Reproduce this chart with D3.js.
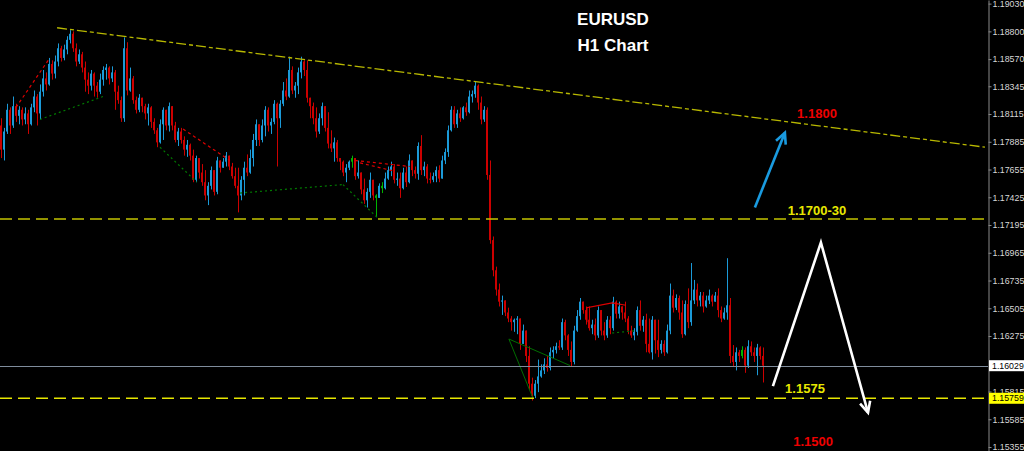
<!DOCTYPE html>
<html>
<head>
<meta charset="utf-8">
<script src="https://cdn.jsdelivr.net/npm/d3@7"></script>
<style>
  html, body { margin: 0; padding: 0; background: #000; }
  svg { display: block; }
</style>
</head>
<body>
<div id="chart"></div>
<script>
// EURUSD H1 bars, open of each bar = close of the bar before
const firstOpen = 1.1802;
const closes = [
  1.1782, 1.1797, 1.1815, 1.1802, 1.1818, 1.1810, 1.1815, 1.1807, 1.1812, 1.1803,
  1.1817, 1.1826, 1.1812, 1.1830, 1.1841, 1.1836, 1.1853, 1.1845, 1.1855, 1.1866,
  1.1858, 1.1865, 1.1873, 1.1878, 1.1866, 1.1855, 1.1861, 1.1850, 1.1840, 1.1835,
  1.1845, 1.1835, 1.1830, 1.1840, 1.1848, 1.1850, 1.1841, 1.1846, 1.1830, 1.1823,
  1.1808, 1.1866, 1.1831, 1.1841, 1.1823, 1.1815, 1.1825, 1.1818, 1.1812, 1.1817,
  1.1805, 1.1798, 1.1788, 1.1803, 1.1815, 1.1802, 1.1818, 1.1802, 1.1790, 1.1797,
  1.1790, 1.1782, 1.1786, 1.1777, 1.1757, 1.1775, 1.1763, 1.1755, 1.1744, 1.1752,
  1.1765, 1.1747, 1.1773, 1.1767, 1.1772, 1.1777, 1.1768, 1.1760, 1.1752, 1.1744,
  1.1757, 1.1767, 1.1763, 1.1775, 1.1790, 1.1803, 1.1790, 1.1802, 1.1815, 1.1802,
  1.1805, 1.1820, 1.1808, 1.1820, 1.1831, 1.1826, 1.1848, 1.1831, 1.1835, 1.1846,
  1.1855, 1.1848, 1.1825, 1.1818, 1.1808, 1.1797, 1.1808, 1.1818, 1.1800, 1.1787,
  1.1783, 1.1788, 1.1775, 1.1772, 1.1763, 1.1767, 1.1772, 1.1775, 1.1760, 1.1763,
  1.1749, 1.1740, 1.1747, 1.1757, 1.1744, 1.1742, 1.1752, 1.1750, 1.1758, 1.1765,
  1.1768, 1.1757, 1.1758, 1.1750, 1.1763, 1.1755, 1.1773, 1.1765, 1.1762, 1.1785,
  1.1765, 1.1768, 1.1758, 1.1757, 1.1760, 1.1765, 1.1758, 1.1773, 1.1780, 1.1798,
  1.1815, 1.1803, 1.1812, 1.1808, 1.1817, 1.1813, 1.1826, 1.1828, 1.1835, 1.1821,
  1.1807, 1.1815, 1.1761, 1.1707, 1.1682, 1.1666, 1.1656, 1.1657, 1.1647, 1.1642,
  1.1639, 1.1641, 1.1642, 1.1621, 1.1632, 1.1611, 1.1588, 1.1578, 1.1588, 1.1594,
  1.1599, 1.1604, 1.1601, 1.1614, 1.1616, 1.1619, 1.1618, 1.1639, 1.1628, 1.1616,
  1.1606, 1.1632, 1.1644, 1.1656, 1.1649, 1.1641, 1.1634, 1.1637, 1.1628, 1.1649,
  1.1632, 1.1628, 1.1641, 1.1634, 1.1656, 1.1646, 1.1652, 1.1647, 1.1642, 1.1632,
  1.1628, 1.1631, 1.1649, 1.1636, 1.1641, 1.1621, 1.1614, 1.1641, 1.1624, 1.1616,
  1.1621, 1.1614, 1.1632, 1.1661, 1.1651, 1.1659, 1.1647, 1.1629, 1.1654, 1.1639,
  1.1657, 1.1666, 1.1657, 1.1661, 1.1652, 1.1657, 1.1661, 1.1656, 1.1661, 1.1649,
  1.1642, 1.1647, 1.1653, 1.1611, 1.1606, 1.1614, 1.1611, 1.1616, 1.1603, 1.1619,
  1.1614, 1.1611, 1.1618, 1.1611, 1.1603
];
const highs = [
  1.1808, 1.1800, 1.1820, 1.1817, 1.1826, 1.1820, 1.1818, 1.1817, 1.1817, 1.1815,
  1.1820, 1.1831, 1.1828, 1.1836, 1.1848, 1.1846, 1.1858, 1.1856, 1.1860, 1.1870,
  1.1868, 1.1869, 1.1876, 1.1881, 1.1880, 1.1870, 1.1865, 1.1863, 1.1855, 1.1846,
  1.1848, 1.1846, 1.1838, 1.1845, 1.1851, 1.1853, 1.1851, 1.1851, 1.1848, 1.1835,
  1.1826, 1.1875, 1.1871, 1.1850, 1.1843, 1.1826, 1.1828, 1.1825, 1.1820, 1.1820,
  1.1818, 1.1808, 1.1800, 1.1807, 1.1817, 1.1813, 1.1821, 1.1815, 1.1805, 1.1800,
  1.1800, 1.1793, 1.1790, 1.1787, 1.1782, 1.1777, 1.1773, 1.1770, 1.1765, 1.1755,
  1.1768, 1.1760, 1.1776, 1.1773, 1.1775, 1.1780, 1.1777, 1.1771, 1.1767, 1.1767,
  1.1760, 1.1772, 1.1778, 1.1782, 1.1795, 1.1807, 1.1798, 1.1807, 1.1818, 1.1817,
  1.1808, 1.1823, 1.1821, 1.1823, 1.1838, 1.1841, 1.1859, 1.1851, 1.1838, 1.1850,
  1.1859, 1.1856, 1.1856, 1.1823, 1.1821, 1.1817, 1.1812, 1.1821, 1.1818, 1.1813,
  1.1798, 1.1792, 1.1790, 1.1775, 1.1773, 1.1770, 1.1773, 1.1777, 1.1775, 1.1773,
  1.1763, 1.1758, 1.1750, 1.1763, 1.1757, 1.1745, 1.1754, 1.1755, 1.1763, 1.1768,
  1.1772, 1.1770, 1.1763, 1.1763, 1.1767, 1.1768, 1.1778, 1.1773, 1.1768, 1.1788,
  1.1794, 1.1772, 1.1770, 1.1763, 1.1763, 1.1768, 1.1769, 1.1777, 1.1783, 1.1802,
  1.1818, 1.1818, 1.1815, 1.1817, 1.1818, 1.1821, 1.1831, 1.1831, 1.1838, 1.1836,
  1.1826, 1.1818, 1.1817, 1.1773, 1.1710, 1.1685, 1.1671, 1.1661, 1.1657, 1.1651,
  1.1644, 1.1642, 1.1644, 1.1639, 1.1637, 1.1628, 1.1619, 1.1593, 1.1591, 1.1608,
  1.1604, 1.1609, 1.1611, 1.1618, 1.1619, 1.1622, 1.1624, 1.1642, 1.1641, 1.1629,
  1.1623, 1.1636, 1.1649, 1.1659, 1.1656, 1.1652, 1.1652, 1.1641, 1.1642, 1.1652,
  1.1646, 1.1639, 1.1644, 1.1644, 1.1660, 1.1657, 1.1656, 1.1652, 1.1656, 1.1644,
  1.1636, 1.1634, 1.1652, 1.1657, 1.1644, 1.1646, 1.1642, 1.1644, 1.1639, 1.1641,
  1.1624, 1.1624, 1.1637, 1.1671, 1.1666, 1.1662, 1.1661, 1.1657, 1.1657, 1.1667,
  1.1688, 1.1674, 1.1671, 1.1664, 1.1664, 1.1661, 1.1666, 1.1662, 1.1664, 1.1667,
  1.1652, 1.1651, 1.1692, 1.1659, 1.1620, 1.1618, 1.1616, 1.1619, 1.1618, 1.1624,
  1.1623, 1.1618, 1.1621, 1.1619, 1.1618
];
const lows = [
  1.1775, 1.1773, 1.1795, 1.1795, 1.1800, 1.1805, 1.1803, 1.1802, 1.1803, 1.1795,
  1.1802, 1.1813, 1.1802, 1.1807, 1.1826, 1.1831, 1.1835, 1.1840, 1.1841, 1.1851,
  1.1855, 1.1856, 1.1861, 1.1870, 1.1863, 1.1851, 1.1853, 1.1846, 1.1830, 1.1828,
  1.1831, 1.1826, 1.1825, 1.1828, 1.1835, 1.1840, 1.1836, 1.1838, 1.1815, 1.1820,
  1.1805, 1.1805, 1.1827, 1.1830, 1.1820, 1.1812, 1.1813, 1.1813, 1.1807, 1.1802,
  1.1800, 1.1795, 1.1784, 1.1787, 1.1790, 1.1798, 1.1797, 1.1798, 1.1788, 1.1785,
  1.1787, 1.1777, 1.1776, 1.1773, 1.1755, 1.1755, 1.1758, 1.1752, 1.1740, 1.1736,
  1.1749, 1.1744, 1.1745, 1.1763, 1.1767, 1.1768, 1.1765, 1.1758, 1.1750, 1.1730,
  1.1740, 1.1744, 1.1760, 1.1762, 1.1768, 1.1785, 1.1785, 1.1788, 1.1793, 1.1797,
  1.1795, 1.1803, 1.1768, 1.1800, 1.1818, 1.1823, 1.1825, 1.1828, 1.1825, 1.1828,
  1.1841, 1.1843, 1.1821, 1.1808, 1.1803, 1.1792, 1.1795, 1.1802, 1.1797, 1.1783,
  1.1780, 1.1772, 1.1772, 1.1765, 1.1760, 1.1755, 1.1765, 1.1767, 1.1757, 1.1758,
  1.1745, 1.1737, 1.1734, 1.1742, 1.1740, 1.1726, 1.1742, 1.1746, 1.1749, 1.1757,
  1.1760, 1.1754, 1.1752, 1.1742, 1.1749, 1.1751, 1.1754, 1.1760, 1.1758, 1.1757,
  1.1761, 1.1760, 1.1754, 1.1754, 1.1755, 1.1755, 1.1755, 1.1758, 1.1770, 1.1776,
  1.1797, 1.1800, 1.1800, 1.1805, 1.1807, 1.1810, 1.1812, 1.1821, 1.1825, 1.1815,
  1.1803, 1.1805, 1.1757, 1.1704, 1.1677, 1.1661, 1.1652, 1.1645, 1.1644, 1.1639,
  1.1632, 1.1631, 1.1629, 1.1616, 1.1621, 1.1606, 1.1583, 1.1574, 1.1576, 1.1581,
  1.1593, 1.1596, 1.1598, 1.1599, 1.1609, 1.1613, 1.1616, 1.1616, 1.1624, 1.1611,
  1.1602, 1.1604, 1.1631, 1.1641, 1.1646, 1.1637, 1.1632, 1.1629, 1.1624, 1.1626,
  1.1628, 1.1624, 1.1626, 1.1629, 1.1632, 1.1642, 1.1642, 1.1641, 1.1639, 1.1629,
  1.1626, 1.1624, 1.1628, 1.1632, 1.1631, 1.1614, 1.1613, 1.1608, 1.1613, 1.1610,
  1.1613, 1.1611, 1.1613, 1.1629, 1.1647, 1.1649, 1.1641, 1.1626, 1.1628, 1.1634,
  1.1636, 1.1654, 1.1652, 1.1652, 1.1647, 1.1651, 1.1654, 1.1652, 1.1656, 1.1643,
  1.1639, 1.1641, 1.1641, 1.1605, 1.1602, 1.1599, 1.1606, 1.1609, 1.1597, 1.1601,
  1.1611, 1.1606, 1.1595, 1.1608, 1.1589
];
const greenBars = [117, 125, 127, 247];

const tickValues = [1.19030, 1.18800, 1.18570, 1.18345, 1.18115, 1.17885, 1.17655, 1.17425,
  1.17195, 1.16965, 1.16735, 1.16505, 1.16275, 1.15815, 1.15585, 1.15355];
const currentPrice = 1.16029;
const supportPrice = 1.15759;
const resistancePrice = 1.17245;

// drawn objects, as [bar index, price]
const trendLine = [[18.7, 1.1883], [328, 1.1784]];
const redDashLines = [
  [[5, 1.1817], [16, 1.1857]],
  [[60.7, 1.1799], [76.3, 1.1773]],
  [[118, 1.1773], [136.3, 1.1768]],
  [[119.7, 1.1771], [131.3, 1.1764]]
];
const greenDotLines = [
  [[13, 1.1807], [34, 1.1826]],
  [[53, 1.1784], [65.3, 1.1755]],
  [[79.7, 1.1746], [114, 1.1753]],
  [[114, 1.1753], [125.3, 1.1726]],
  [[203.7, 1.1630], [211.7, 1.1632]]
];
const greenLines = [
  [[169.3, 1.1625], [177.3, 1.1576]],
  [[169.3, 1.1625], [189.7, 1.1603]]
];
const redLines = [
  [[195.3, 1.1639], [195.3, 1.1651], [203.7, 1.1655], [208.3, 1.1653]]
];
const blueArrow = [[251.3, 1.1734], [261.3, 1.1796]];
const whiteArrow = [[257.3, 1.1586], [273.3, 1.1705], [289, 1.1564]];

const noteTexts = ["1.1800", "1.1700-30", "1.1575", "1.1500"];
const noteIdx = [272, 272, 268, 270.7];
const notePrices = [1.1808, 1.1728, 1.1580, 1.1536];
const noteColors = ["#ee0000", "#e8e800", "#e8e800", "#ee0000"];

const W = 1024, H = 451, axisX = 988;
const axisFont = "8.8px 'Liberation Sans', Arial, sans-serif";

const svg = d3.select("#chart").append("svg")
  .attr("width", W).attr("height", H)
  .style("background", "#000");

const xs = d3.scaleLinear().domain([0, closes.length - 1]).range([1, 763]);
const y = d3.scaleLinear().domain([1.19060, 1.15322]).range([0, H]);

const bars = closes.map((c, i) => {
  const o = i ? closes[i - 1] : firstOpen;
  return {
    i, o, c,
    h: Math.max(highs[i], o, c),
    l: Math.min(lows[i], o, c),
    green: greenBars.includes(i)
  };
});
const barColor = (d) => d.green ? "#00b400" : (d.c >= d.o ? "#1b9ad8" : "#cc0000");

const plot = svg.append("g").attr("class", "bars");
plot.selectAll("rect.wick")
  .data(bars)
  .join("rect")
  .attr("class", "wick")
  .attr("x", (d) => Math.round(xs(d.i)))
  .attr("y", (d) => y(d.h))
  .attr("width", 1)
  .attr("height", (d) => Math.max(1, y(d.l) - y(d.h)))
  .attr("fill", barColor);
plot.selectAll("rect.body")
  .data(bars)
  .join("rect")
  .attr("class", "body")
  .attr("x", (d) => Math.round(xs(d.i)) - 1)
  .attr("y", (d) => y(Math.max(d.o, d.c)))
  .attr("width", 2)
  .attr("height", (d) => Math.max(1, Math.abs(y(d.o) - y(d.c))))
  .attr("fill", barColor);

const line = d3.line().x((d) => xs(d[0])).y((d) => y(d[1]));

function drawLines(list, color, dash, width) {
  svg.append("g").selectAll("path")
    .data(list)
    .join("path")
    .attr("d", line)
    .attr("fill", "none")
    .attr("stroke", color)
    .attr("stroke-width", width)
    .attr("stroke-dasharray", dash);
}
drawLines(redDashLines, "#e00000", "3,3", 1.2);
drawLines(greenDotLines, "#007a00", "2,3", 1.2);
drawLines(greenLines, "#006e00", null, 1);
drawLines(redLines, "#e00000", null, 1.2);

// yellow trend line
drawLines([trendLine], "#b8b800", "10,3,4,3", 1.3);

// horizontal levels
svg.append("line")
  .attr("x1", 0).attr("x2", axisX)
  .attr("y1", y(resistancePrice)).attr("y2", y(resistancePrice))
  .attr("stroke", "#c4c400").attr("stroke-width", 1.3).attr("stroke-dasharray", "12,6");
svg.append("line")
  .attr("x1", 0).attr("x2", axisX)
  .attr("y1", y(supportPrice)).attr("y2", y(supportPrice))
  .attr("stroke", "#e6e600").attr("stroke-width", 1.3).attr("stroke-dasharray", "12,6");
svg.append("line")
  .attr("x1", 0).attr("x2", axisX)
  .attr("y1", Math.round(y(currentPrice)) + 0.5).attr("y2", Math.round(y(currentPrice)) + 0.5)
  .attr("stroke", "#7f8c9c").attr("stroke-width", 1);

// arrows
function drawArrow(pts, color) {
  const p = pts.map((d) => [xs(d[0]), y(d[1])]);
  svg.append("path")
    .attr("d", d3.line()(p))
    .attr("fill", "none")
    .attr("stroke", color)
    .attr("stroke-width", 2.6)
    .attr("stroke-linejoin", "miter");
  const [a, b] = p.slice(-2);
  const ang = Math.atan2(b[1] - a[1], b[0] - a[0]);
  const len = 12;
  const wings = [ang + Math.PI - 0.45, ang + Math.PI + 0.45].map((t) =>
    [b[0] + len * Math.cos(t), b[1] + len * Math.sin(t)]);
  svg.append("path")
    .attr("d", d3.line()([wings[0], b, wings[1]]))
    .attr("fill", "none")
    .attr("stroke", color)
    .attr("stroke-width", 2.6);
}
drawArrow(blueArrow, "#1a9be0");
drawArrow(whiteArrow, "#ffffff");

// price notes
svg.append("g").selectAll("text")
  .data(noteTexts)
  .join("text")
  .attr("x", (d, i) => xs(noteIdx[i]))
  .attr("y", (d, i) => y(notePrices[i]))
  .attr("text-anchor", "middle")
  .attr("fill", (d, i) => noteColors[i])
  .style("font", "bold 13px 'Liberation Sans', Arial, sans-serif")
  .text((d) => d);

// title
svg.append("text")
  .attr("x", 613).attr("y", 25)
  .attr("text-anchor", "middle").attr("fill", "#fff")
  .style("font", "bold 17px 'Liberation Sans', Arial, sans-serif")
  .text("EURUSD");
svg.append("text")
  .attr("x", 613).attr("y", 51)
  .attr("text-anchor", "middle").attr("fill", "#fff")
  .style("font", "bold 17px 'Liberation Sans', Arial, sans-serif")
  .text("H1 Chart");

// price axis
const axis = svg.append("g")
  .attr("transform", "translate(" + (axisX + 0.5) + ",0)")
  .call(d3.axisRight(y).tickValues(tickValues).tickFormat(d3.format(".5f"))
    .tickSize(3).tickSizeOuter(0).tickPadding(1));
axis.select(".domain").attr("stroke", "#8a8a8a");
axis.selectAll(".tick line").attr("stroke", "#8a8a8a");
axis.selectAll(".tick text")
  .attr("fill", "#d8d8d8")
  .style("font", axisFont);

function priceTag(price, bg) {
  const g = svg.append("g").attr("transform", "translate(" + (axisX + 1) + "," + y(price) + ")");
  g.append("rect").attr("x", 0).attr("y", -5.5).attr("width", W - axisX - 1).attr("height", 11).attr("fill", bg);
  g.append("text").attr("x", 3).attr("y", 0).attr("dy", "0.35em").attr("fill", "#000")
    .style("font", axisFont)
    .text(d3.format(".5f")(price));
}
priceTag(currentPrice, "#ffffff");
priceTag(supportPrice, "#ffff00");
</script>
</body>
</html>
